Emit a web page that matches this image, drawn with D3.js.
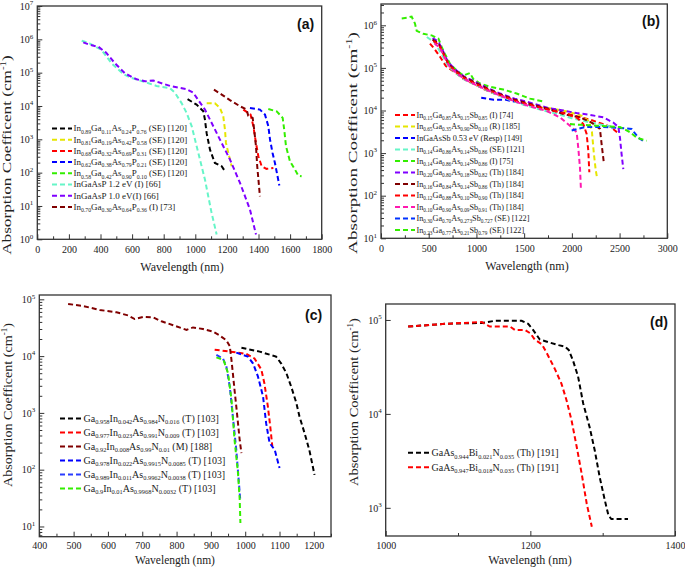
<!DOCTYPE html>
<html><head><meta charset="utf-8">
<script src="https://cdn.jsdelivr.net/npm/d3@7"></script>
<style>
body{margin:0;background:#fff}
svg{display:block}
text{font-family:"Liberation Serif","Times New Roman",serif;fill:#222}
</style>
</head><body>
<svg id="c" width="685" height="568"></svg>
<script>
// ---------- Panel (a) data: [wavelength nm, alpha cm^-1] ----------
const aBlack   = [[951,1.6e4],[1008,1.1e4],[1051,6.9e3],[1061,3.9e3],[1072,1.5e3],[1093,490],[1124,195],[1167,155],[1188,110]];
const aYellow  = [[1072,1.2e4],[1124,1.2e4],[1156,8.7e3],[1177,4.9e3],[1188,1.9e3],[1194,780],[1209,390],[1230,155]];
const aRed     = [[1304,7.8e3],[1350,5.5e3],[1367,2.5e3],[1384,780],[1399,310],[1420,155],[1451,130],[1494,138]];
const aBlue    = [[1346,8.7e3],[1409,7.8e3],[1441,5.5e3],[1462,2.5e3],[1473,980],[1489,390],[1504,195],[1532,41]];
const aGreen   = [[1462,8.1e3],[1515,6.9e3],[1553,4.4e3],[1563,1.9e3],[1574,620],[1599,220],[1631,123],[1652,81],[1673,78]];
const aCyan    = [[281,9.1e5],[330,7.6e5],[407,4.8e5],[470,1.9e5],[544,9.1e4],[587,7.2e4],[671,5.4e4],[755,4.0e4],[840,3.4e4],[871,2.5e4],[914,1.2e4],[945,6.2e3],[977,2.5e3],[1019,390],[1061,62],[1103,6.2],[1135,1.4]];
const aPurple  = [[291,8.1e5],[333,6.8e5],[386,6.0e5],[435,4.0e5],[492,1.9e5],[555,9.5e4],[629,6.3e4],[681,5.5e4],[734,5.8e4],[840,4.0e4],[945,3.2e4],[987,2.5e4],[1019,1.5e4],[1061,7.8e3],[1093,3.9e3],[1156,980],[1219,250],[1283,49],[1346,7.8],[1384,1.4]];
const aDarkRed = [[1118,3.1e4],[1167,2.2e4],[1219,1.5e4],[1283,9.8e3],[1325,7.8e3],[1335,5.1e3],[1363,4.4e3],[1373,1.9e3],[1384,620],[1392,155],[1409,19.5]];
const aLabels = ["In_{0.89}Ga_{0.11}As_{0.24}P_{0.76} (SE) [120]","In_{0.81}Ga_{0.19}As_{0.42}P_{0.58} (SE) [120]","In_{0.68}Ga_{0.32}As_{0.69}P_{0.31} (SE) [120]","In_{0.62}Ga_{0.38}As_{0.79}P_{0.21} (SE) [120]","In_{0.58}Ga_{0.42}As_{0.90}P_{0.10} (SE) [120]","InGaAsP 1.2 eV (I) [66]","InGaAsP 1.0 eV(I) [66]","In_{0.70}Ga_{0.30}As_{0.64}P_{0.36} (I) [73]"];
const aColors = ["#000000","#e6e600","#ff0000","#0000ff","#33ee00","#66f5c8","#8000ff","#800000"];
const aXTicks = [0,200,400,600,800,1000,1200,1400,1600,1800];

// ---------- Panel (b) data ----------
const bRed74     = [[513,3.7e5],[560,2.8e5],[620,1.8e5],[680,1.1e5],[760,8.3e4],[860,5.6e4],[970,4.2e4],[1100,3.0e4],[1250,2.2e4],[1400,1.66e4],[1600,1.26e4],[1800,1.0e4],[2000,7.9e3],[2200,6.0e3],[2400,4.2e3],[2480,3.0e3]];
const bYellow185 = [[1650,1.2e4],[1800,1.1e4],[1950,9.5e3],[2100,7.6e3],[2180,5.6e3],[2210,3.2e3],[2230,1.0e3],[2250,400],[2266,245]];
const bBlue149   = [[1050,2.0e4],[1180,1.8e4],[1300,1.8e4],[1500,1.45e4],[1700,1.15e4],[1900,9.5e3]];
const bCyan121   = [[480,5.3e5],[560,4.0e5],[640,2.0e5],[700,1.15e5],[780,7.6e4],[880,5.2e4],[1000,3.9e4],[1150,2.7e4],[1300,1.95e4],[1500,1.35e4],[1700,1.0e4],[1850,8.3e3],[2000,6.6e3],[2200,5.2e3],[2450,4.0e3]];
const bGreen75   = [[217,1.45e6],[269,1.5e6],[321,1.6e6],[356,1.1e6],[374,7.4e5],[444,6.3e5],[531,5.8e5],[601,4.9e5],[636,3.1e5],[671,2.1e5],[723,1.26e5],[793,8.7e4],[863,6.6e4],[932,7.6e4],[967,5.5e4],[1037,4.3e4],[1142,3.6e4],[1282,3.1e4],[1421,2.5e4],[1561,1.9e4],[1720,1.6e4]];
const bPurple184 = [[540,5.0e5],[600,4.2e5],[650,2.5e5],[700,1.4e5],[770,9.5e4],[870,6.3e4],[980,4.8e4],[1100,3.5e4],[1250,2.5e4],[1400,1.9e4],[1600,1.45e4],[1750,1.15e4],[1910,1.0e4],[2050,8.7e3],[2190,7.9e3],[2330,6.9e3],[2434,5.2e3],[2487,4.1e3],[2504,2.3e3],[2521,950],[2539,420]];
const bDarkRed184= [[540,4.6e5],[600,3.8e5],[650,2.3e5],[700,1.3e5],[770,9.0e4],[870,6.1e4],[980,4.6e4],[1100,3.4e4],[1250,2.4e4],[1400,1.8e4],[1600,1.35e4],[1750,1.1e4],[1910,8.3e3],[2085,6.9e3],[2207,5.2e3],[2294,3.7e3],[2312,1.6e3],[2336,575]];
const bRed184    = [[550,4.3e5],[610,3.4e5],[660,2.0e5],[710,1.2e5],[780,8.3e4],[880,5.6e4],[990,4.2e4],[1120,3.1e4],[1270,2.2e4],[1420,1.65e4],[1620,1.25e4],[1800,1.0e4],[1950,8.3e3],[2060,6.6e3],[2120,4.8e3],[2155,2.8e3],[2172,1.15e3],[2183,355]];
const bPink184   = [[560,3.8e5],[620,2.9e5],[670,1.7e5],[720,1.05e5],[790,7.6e4],[890,5.2e4],[1000,3.9e4],[1130,2.9e4],[1280,2.1e4],[1430,1.55e4],[1620,1.15e4],[1735,9.8e3],[1875,6.9e3],[1980,4.4e3],[2050,3.1e3],[2067,1.35e3],[2085,455],[2095,141]];
const bBlue122   = [[1998,3.4e3],[2137,4.1e3],[2300,4.1e3],[2417,4.0e3],[2626,3.7e3],[2696,2.3e3],[2766,1.8e3]];
const bGreen122  = [[1980,4.8e3],[2100,4.6e3],[2260,4.4e3],[2504,4.1e3],[2609,3.1e3],[2679,2.3e3],[2783,1.95e3]];
const bLabels = ["In_{0.15}Ga_{0.85}As_{0.15}Sb_{0.85} (I) [74]","In_{0.65}Ga_{0.35}As_{0.90}Sb_{0.10} (R) [185]","InGaAsSb 0.53 eV (Resp) [149]","In_{0.14}Ga_{0.86}As_{0.14}Sb_{0.86} (SE) [121]","In_{0.14}Ga_{0.86}As_{0.14}Sb_{0.86} (I) [75]","In_{0.20}Ga_{0.80}As_{0.18}Sb_{0.82} (Th) [184]","In_{0.16}Ga_{0.84}As_{0.14}Sb_{0.86} (Th) [184]","In_{0.12}Ga_{0.88}As_{0.10}Sb_{0.90} (Th) [184]","In_{0.10}Ga_{0.90}As_{0.09}Sb_{0.91} (Th) [184]","In_{0.30}Ga_{0.70}As_{0.273}Sb_{0.727} (SE) [122]","In_{0.23}Ga_{0.77}As_{0.21}Sb_{0.79} (SE) [122]"];
const bColors = ["#ff0000","#e6e600","#0000ff","#66f5c8","#33ee00","#8000ff","#800000","#ff0000","#ff19b0","#0033ff","#33ee00"];
const bXTicks = [0,500,1000,1500,2000,2500,3000];

// ---------- Panel (c) data ----------
const cBlack   = [[989,1.4e4],[1042,1.2e4],[1090,9.8e3],[1105,7.4e3],[1120,5.0e3],[1134,2.9e3],[1149,1.5e3],[1158,870],[1173,440],[1187,220],[1202,81]];
const cRed     = [[911,1.3e4],[955,1.2e4],[1003,1.1e4],[1027,9.1e3],[1047,5.8e3],[1056,3.3e3],[1066,1.3e3],[1073,575],[1079,257]];
const cDarkRed = [[484,8.3e4],[528,7.6e4],[576,6.5e4],[625,5.9e4],[659,5.2e4],[678,4.5e4],[703,4.9e4],[732,4.8e4],[756,4.1e4],[790,3.5e4],[829,2.9e4],[848,3.2e4],[877,3.0e4],[906,2.7e4],[926,2.3e4],[945,1.9e4],[955,1.5e4],[960,8.5e3],[964,5.0e3],[969,2.5e3],[974,1.3e3],[979,660],[984,330],[989,195]];
const cBlue1   = [[974,1.15e4],[1008,9.8e3],[1023,7.4e3],[1037,4.4e3],[1052,1.95e3],[1061,660],[1071,295],[1086,224],[1100,107]];
const cBlue2   = [[916,1.05e4],[935,9.1e3],[945,6.6e3],[955,2.9e3],[964,870],[974,224],[986,27.5]];
const cGreen   = [[916,9.5e3],[937,8.5e3],[950,5.0e3],[960,1.7e3],[969,330],[979,87],[984,29.5],[986,11.5]];
const cLabels = ["Ga_{0.958}In_{0.042}As_{0.984}N_{0.016} (T) [103]","Ga_{0.977}In_{0.023}As_{0.991}N_{0.009} (T) [103]","Ga_{0.92}In_{0.008}As_{0.99}N_{0.01} (M) [188]","Ga_{0.978}In_{0.022}As_{0.9915}N_{0.0085} (T) [103]","Ga_{0.989}In_{0.011}As_{0.9962}N_{0.0038} (T) [103]","Ga_{0.9}In_{0.01}As_{0.9968}N_{0.0032} (T) [103]"];
const cColors = ["#000000","#ff0000","#800000","#0000ff","#2a3cff","#33ee00"];
const cXTicks = [400,500,600,700,800,900,1000,1100,1200];

// ---------- Panel (d) data ----------
const dBlack = [[1031,8.5e4],[1082,9.1e4],[1133,9.3e4],[1151,9.8e4],[1188,9.8e4],[1197,9.1e4],[1204,7.8e4],[1213,6.2e4],[1225,5.8e4],[1239,5.4e4],[1248,5.2e4],[1253,4.8e4],[1259,3.7e4],[1266,2.5e4],[1273,1.3e4],[1282,7.2e3],[1289,4.1e3],[1296,2.1e3],[1303,1.2e3],[1308,830],[1312,760],[1335,760]];
const dRed   = [[1031,8.5e4],[1082,9.1e4],[1133,9.5e4],[1144,8.5e4],[1160,8.5e4],[1172,8.5e4],[1179,7.8e4],[1193,7.8e4],[1200,7.2e4],[1206,6.2e4],[1216,5.5e4],[1223,4.4e4],[1234,3.0e4],[1243,2.1e4],[1250,1.4e4],[1257,8.5e3],[1264,4.5e3],[1271,2.3e3],[1278,1.1e3],[1285,630]];
const dLabels = ["GaAs_{0.944}Bi_{0.021}N_{0.035} (Th) [191]","GaAs_{0.947}Bi_{0.018}N_{0.035} (Th) [191]"];
const dColors = ["#000000","#ff0000"];
const dXTicks = [1000,1200,1400];

// ---------- layout ----------
const SERIF = '"Liberation Serif","Times New Roman",serif';
const svg = d3.select('#c');

const panels = [
  {tag:'(a)', left:37.3, right:321.7, top:6, bottom:239.3, xDomain:[0,1800], xTicks:aXTicks, xMinorStep:100, xPad:6.5, yDomain:[1,1e7], yMinor:true,
   series:[aBlack,aYellow,aRed,aBlue,aGreen,aCyan,aPurple,aDarkRed], labels:aLabels, colors:aColors,
   leg:{x:52, y:128.5, dy:11.2, font:9, len:20}, tagPos:[297,29], xTitle:[182,271,12], yTitle:[11,155,200]},
  {tag:'(b)', left:381, right:667.3, top:4, bottom:238.3, xDomain:[0,3000], xTicks:bXTicks, xMinorStep:250, xPad:6.5, yDomain:[10,Math.pow(10,6.5)], yMinor:true,
   series:[bRed74,bYellow185,bBlue149,bCyan121,bGreen75,bPurple184,bDarkRed184,bRed184,bPink184,bBlue122,bGreen122], labels:bLabels, colors:bColors,
   leg:{x:395, y:115, dy:11.5, font:8.2, len:20}, tagPos:[642,26], xTitle:[527,270,12], yTitle:[357,143,222]},
  {tag:'(c)', left:39.3, right:331, top:295, bottom:536.7, xDomain:[400,1250], xTicks:cXTicks, xMinorStep:50, xPad:5, yDomain:[Math.pow(10,0.82),Math.pow(10,5.076)], yMinor:true,
   series:[cBlack,cRed,cDarkRed,cBlue1,cBlue2,cGreen], labels:cLabels, colors:cColors,
   leg:{x:60, y:418.5, dy:14, font:10, len:22}, tagPos:[305,320], xTitle:[175,564,11.5], yTitle:[12,405,164]},
  {tag:'(d)', left:385.7, right:675, top:304, bottom:536, xDomain:[1000,1400], xTicks:dXTicks, xMinorStep:100, xPad:6, yDomain:[Math.pow(10,2.7),Math.pow(10,5.17)], yMinor:false,
   series:[dBlack,dRed], labels:dLabels, colors:dColors,
   leg:{x:408, y:452.7, dy:14.6, font:10, len:22}, tagPos:[650,327], xTitle:[530,564,12], yTitle:[358,402,168]}
];

function richText(sel, str, size) {
  const parts = str.split(/(_\{[^}]*\})/).filter(s => s.length);
  let sub = false;
  parts.forEach(p => {
    if (p.startsWith('_{')) {
      sel.append('tspan').attr('font-size', size*0.64).attr('dy', size*0.25).text(p.slice(2,-1));
      sub = true;
    } else {
      sel.append('tspan').attr('font-size', size).attr('dy', sub ? -size*0.25 : 0).text(p);
      sub = false;
    }
  });
}

panels.forEach((p, pi) => {
  const g = svg.append('g');
  const x = d3.scaleLinear().domain(p.xDomain).range([p.left, p.right]);
  const y = d3.scaleLog().domain(p.yDomain).range([p.bottom, p.top]);

  const clipId = 'clip' + pi;
  g.append('clipPath').attr('id', clipId).append('rect')
    .attr('x', p.left).attr('y', p.top).attr('width', p.right - p.left).attr('height', p.bottom - p.top);

  // x minor ticks
  const xMinor = d3.range(p.xDomain[0], p.xDomain[1] + 1e-6, p.xMinorStep).filter(v => p.xTicks.indexOf(v) < 0);
  g.append('g').attr('transform', `translate(0,${p.bottom})`)
    .call(d3.axisBottom(x).tickValues(xMinor).tickSize(-3).tickFormat(''))
    .call(s => s.select('.domain').remove());
  // x major ticks
  g.append('g').attr('transform', `translate(0,${p.bottom})`)
    .call(d3.axisBottom(x).tickValues(p.xTicks).tickSize(-5).tickPadding(p.xPad).tickFormat(d3.format('d')))
    .call(s => s.select('.domain').remove())
    .call(s => s.selectAll('text').style('font-family', SERIF).style('font-size', '10px').style('fill', '#222'));

  // y ticks
  const lo = Math.log10(p.yDomain[0]), hi = Math.log10(p.yDomain[1]);
  const decades = d3.range(Math.ceil(lo - 1e-9), Math.floor(hi + 1e-9) + 1).map(e => Math.pow(10, e));
  if (p.yMinor) {
    const minors = [];
    for (let e = Math.floor(lo); e <= Math.floor(hi); e++) for (let k = 2; k <= 9; k++) {
      const v = k * Math.pow(10, e);
      if (v >= p.yDomain[0] && v <= p.yDomain[1]) minors.push(v);
    }
    g.append('g').attr('transform', `translate(${p.left},0)`)
      .call(d3.axisLeft(y).tickValues(minors).tickSize(-3).tickFormat(''))
      .call(s => s.select('.domain').remove());
  }
  const ya = g.append('g').attr('transform', `translate(${p.left},0)`)
    .call(d3.axisLeft(y).tickValues(decades).tickSize(-5).tickPadding(4).tickFormat(''))
    .call(s => s.select('.domain').remove());
  ya.selectAll('.tick text').each(function(d) {
    const t = d3.select(this).style('font-family', SERIF).style('fill', '#222');
    t.append('tspan').attr('font-size', 10).text('10');
    t.append('tspan').attr('font-size', 7).attr('dy', -4.5).text(Math.round(Math.log10(d)));
  });
  g.selectAll('.tick line').attr('stroke', '#333');

  // frame
  g.append('rect').attr('x', p.left).attr('y', p.top).attr('width', p.right - p.left).attr('height', p.bottom - p.top)
    .attr('fill', 'none').attr('stroke', '#333').attr('stroke-width', 1.3);

  // series
  const line = d3.line().x(d => x(d[0])).y(d => y(d[1]));
  const lg = g.append('g').attr('clip-path', `url(#${clipId})`);
  p.series.forEach((s, i) => {
    lg.append('path').datum(s).attr('d', line).attr('fill', 'none')
      .attr('stroke', p.colors[i]).attr('stroke-width', 2).attr('stroke-dasharray', '5,3');
  });

  // legend
  p.labels.forEach((lab, i) => {
    const yy = p.leg.y + i * p.leg.dy;
    g.append('line').attr('x1', p.leg.x).attr('x2', p.leg.x + p.leg.len).attr('y1', yy).attr('y2', yy)
      .attr('stroke', p.colors[i]).attr('stroke-width', 2).attr('stroke-dasharray', '5,3');
    const t = g.append('text').attr('x', p.leg.x + p.leg.len + 1.5).attr('y', yy + p.leg.font * 0.33)
      .style('font-family', SERIF).style('fill', '#222');
    richText(t, lab, p.leg.font);
  });

  // panel tag
  g.append('text').attr('x', p.tagPos[0]).attr('y', p.tagPos[1]).text(p.tag)
    .style('font-family', '"Liberation Sans",Arial,sans-serif').style('font-weight', 'bold').style('font-size', '14px').style('fill', '#111');

  // x title
  g.append('text').attr('x', p.xTitle[0]).attr('y', p.xTitle[1]).attr('text-anchor', 'middle')
    .style('font-family', SERIF).style('font-size', p.xTitle[2] + 'px').style('fill', '#222').text('Wavelength (nm)');

  // y title (stretched along its length to match the reference)
  const yt = g.append('text').attr('text-anchor', 'middle').style('font-family', SERIF).style('font-size', '12.5px').style('fill', '#222');
  yt.append('tspan').text('Absorption Coefficent (cm');
  yt.append('tspan').style('font-size', '8px').attr('dy', -5).text('-1');
  yt.append('tspan').attr('dy', 5).text(')');
  const natural = yt.node().getComputedTextLength();
  const k = p.yTitle[2] / natural;
  yt.attr('transform', `translate(${p.yTitle[0]},${p.yTitle[1]}) rotate(-90) scale(${k},1)`);
});
</script>
</body></html>
